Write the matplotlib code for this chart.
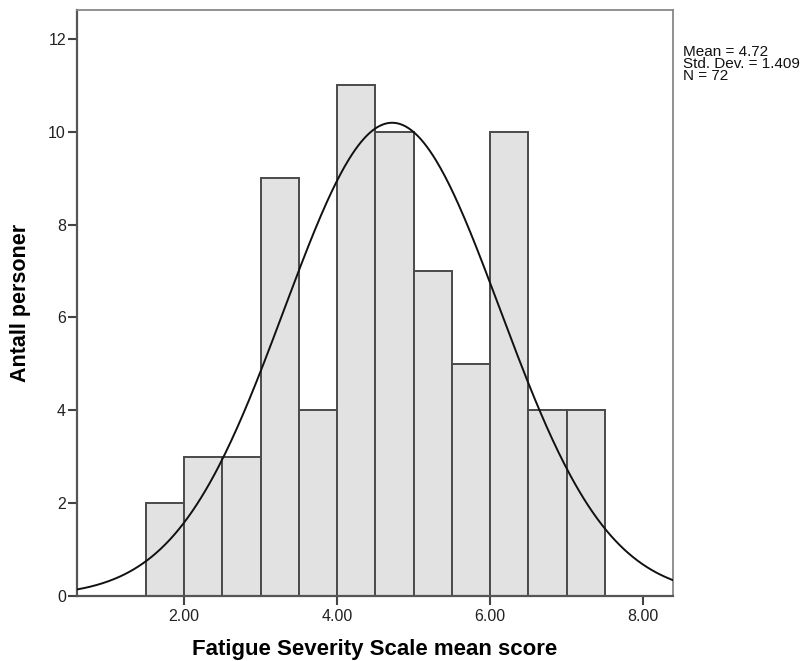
import matplotlib
matplotlib.use("Agg")
import matplotlib.pyplot as plt
import numpy as np

plt.rcParams["font.family"] = ["Liberation Sans", "DejaVu Sans"]

# histogram bins (left edges) and counts
bin_lefts = [1.5, 2.0, 2.5, 3.0, 3.5, 4.0, 4.5, 5.0, 5.5, 6.0, 6.5, 7.0]
counts = [2, 3, 3, 9, 4, 11, 10, 7, 5, 10, 4, 4]
bin_width = 0.5

mean = 4.72
std = 1.409
n = 72

x_ticks = [2.0, 4.0, 6.0, 8.0]
x_labels = ["2.00", "4.00", "6.00", "8.00"]
y_ticks = [0, 2, 4, 6, 8, 10, 12]

fig = plt.figure(figsize=(8.03, 6.61), dpi=100)
ax = fig.add_axes([0.0959, 0.0983, 0.742, 0.8865])

ax.bar(bin_lefts, counts, width=bin_width, align="edge",
       color="#e2e2e2", edgecolor="#4a4a4a", linewidth=1.4, zorder=2)

# normal curve scaled to counts
xs = np.linspace(0.6, 8.4, 400)
ys = n * bin_width / (std * np.sqrt(2 * np.pi)) * np.exp(-0.5 * ((xs - mean) / std) ** 2)
ax.plot(xs, ys, color="#111111", linewidth=1.4, zorder=3)

ax.set_xlim(0.6, 8.39)
ax.set_ylim(0, 12.62)
ax.set_xticks(x_ticks)
ax.set_xticklabels(x_labels)
ax.set_yticks(y_ticks)
ax.tick_params(direction="out", length=6.5, width=1.5, color="#444444",
               labelsize=11.5, labelcolor="#222222")
ax.tick_params(axis="x", pad=3)
ax.tick_params(axis="y", pad=1.5)

for side in ["left", "bottom"]:
    ax.spines[side].set_color("#555555")
    ax.spines[side].set_linewidth(1.6)
for side in ["top", "right"]:
    ax.spines[side].set_color("#888888")
    ax.spines[side].set_linewidth(1.3)

ax.set_xlabel("Fatigue Severity Scale mean score", fontsize=16,
              fontweight="bold", labelpad=11)
ax.set_ylabel("Antall personer", fontsize=15.5, fontweight="bold", labelpad=12)

fig.text(683 / 803, 1 - 45 / 661,
         "Mean = 4.72\nStd. Dev. = 1.409\nN = 72",
         fontsize=11, va="top", ha="left", linespacing=0.82, color="#111111")

fig.savefig("out.png", dpi=100)
